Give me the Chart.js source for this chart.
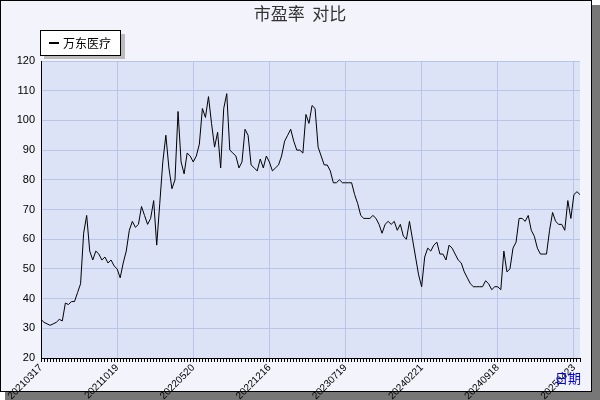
<!DOCTYPE html>
<html><head><meta charset="utf-8">
<script src="https://cdn.jsdelivr.net/npm/chart.js@4"></script>
<style>html,body{margin:0;padding:0;background:#fff}</style>
</head><body>
<div style="width:600px;height:400px"><canvas id="c" width="600" height="400"></canvas></div>
<script>
const tickLabels = ['20210317','20211019','20220520','20221216','20230719','20240221','20240918','20250423'];
const peValues = [
33,32,31.5,31,31.5,32,33,32.5,38.5,38,39,39,42,45,62,68,56,53,56,55,53,54,52,53,51,
50,47,52,56,63,66,64,65,71,68,65,67,73,58,72,86,95,84,77,80,103,86,82,89,88,
86,88,92,104,101,108,99,91,96,84,104,109,90,89,88,84,86,97,95,85,84,83,87,84,88,
86,83,84,85,88,93,95,97,93,90,90,89,102,99,105,104,91,88,85,85,83,79,79,80,79,79,
79,79,75,72,68,67,67,67,68,67,65,62,65,66,65,66,63,65,61,60,66,60,54,48,44,
54,57,56,58,59,55,55,53,58,57,55,53,52,49,47,45,44,44,44,44,46,45,43,44,44,
43,56,49,50,57,59,67,67,66,68,63,61,57,55,55,55,63,69,66,65,65,63,73,67,75,
76,75];
const labels = peValues.map((v,i)=> i%25===0 ? tickLabels[i/25] : '');
const frame = {
  id:'frame',
  beforeDraw(ch){
    const c=ch.ctx; c.save();
    c.fillStyle='#fff'; c.fillRect(0,0,600,400);
    c.fillStyle='#777'; c.fillRect(5,5,595,395);
    c.fillStyle='#f2f3fb'; c.fillRect(0,0,592,392);
    c.strokeStyle='#000'; c.lineWidth=1; c.strokeRect(0.5,0.5,591,391);
    const a=ch.chartArea;
    c.fillStyle='#dce3f7'; c.fillRect(a.left,a.top,a.right-a.left,a.bottom-a.top);
    c.restore();
  },
  afterDraw(ch){
    const c=ch.ctx; c.save();
    c.fillStyle='#333'; c.font='17px "Noto Sans CJK SC"'; c.textAlign='center'; c.textBaseline='middle';
    c.fillText('市盈率  对比',300,14);
    c.fillStyle='#bbb'; c.fillRect(44,34,81,25);
    c.fillStyle='#fff'; c.fillRect(40,30,81,25);
    c.strokeStyle='#000'; c.strokeRect(40.5,30.5,80,25);
    c.fillStyle='#000'; c.fillRect(49,42,10,2);
    c.font='12px "Noto Sans CJK SC"'; c.textAlign='left'; c.fillText('万东医疗',63,43);
    c.fillStyle='#0000ee'; c.font='13px "Noto Sans CJK SC"'; c.textAlign='center'; c.fillText('日期',568,378);
    c.restore();
  }
};
new Chart(document.getElementById('c'),{
  type:'line',
  data:{labels, datasets:[{data:peValues,borderColor:'#000',borderWidth:1,pointRadius:0,tension:0}]},
  plugins:[frame],
  options:{
    responsive:false,animation:false,
    layout:{padding:{top:61,right:20,left:0,bottom:0}},
    plugins:{legend:{display:false},tooltip:{enabled:false}},
    scales:{
      x:{afterFit(s){s.height=42;},
        grid:{color:(ctx)=> (ctx.index%25===0)?'#b8c4e8':'rgba(0,0,0,0)',tickLength:4,tickColor:'#000'},
        border:{color:'#000'},
        ticks:{autoSkip:false,maxRotation:45,minRotation:45,color:'#000',font:{size:10},padding:0,
          callback:(v,i)=> labels[i]}
      },
      y:{min:20,max:120,afterFit(s){s.width=41;},
        grid:{color:'#b8c4e8',tickLength:0},
        border:{color:'#000'},
        ticks:{stepSize:10,color:'#000',font:{size:11},padding:6}
      }
    }
  }
});
</script>
</body></html>
